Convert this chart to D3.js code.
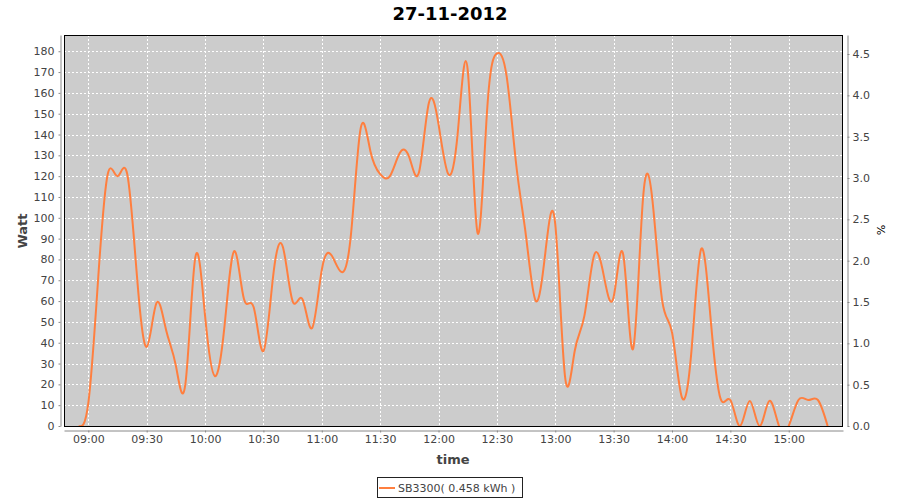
<!DOCTYPE html>
<html>
<head>
<meta charset="utf-8">
<script src="https://cdn.jsdelivr.net/npm/d3@7"></script>
<style>
  body { margin: 0; background: #fff; }
  text { font-family: "DejaVu Sans", sans-serif; }
</style>
</head>
<body>
<svg id="chart" width="900" height="500"></svg>
<script>
// data: 5 minute samples of the SB3300 inverter, 27-11-2012
var times = [
  '08:55','09:00','09:05','09:10','09:15','09:20','09:25','09:30','09:35','09:40',
  '09:45','09:50','09:55','10:00','10:05','10:10','10:15','10:20','10:25','10:30',
  '10:35','10:40','10:45','10:50','10:55','11:00','11:05','11:10','11:15','11:20',
  '11:25','11:30','11:35','11:40','11:45','11:50','11:55','12:00','12:05','12:10',
  '12:15','12:20','12:25','12:30','12:35','12:40','12:45','12:50','12:55','13:00',
  '13:05','13:10','13:15','13:20','13:25','13:30','13:35','13:40','13:45','13:50',
  '13:55','14:00','14:05','14:10','14:15','14:20','14:25','14:30','14:35','14:40',
  '14:45','14:50','14:55','15:00','15:05','15:10','15:15','15:20'
];
var watts = [
  0, 11, 70, 121, 120, 121, 72, 38, 59, 46,
  29, 21, 81, 53, 24, 48, 84, 61, 57, 36,
  72, 86, 60, 61, 47, 75, 82, 74, 92, 143,
  132, 121, 120, 131, 129, 122, 155, 145, 121, 142,
  171, 93, 152, 179, 168, 125, 91, 60, 84, 97,
  24, 36, 53, 82, 72, 62, 82, 37, 108, 108,
  60, 45, 14, 36, 85, 50, 13, 12.5, 0, 12,
  0, 12, 0, 0, 12.5, 12.5, 12.5, 0
];
var wattTicks = [0, 10, 20, 30, 40, 50, 60, 70, 80, 90, 100, 110, 120, 130, 140, 150, 160, 170, 180];
var pctTicks = [0, 0.5, 1.0, 1.5, 2.0, 2.5, 3.0, 3.5, 4.0, 4.5];
var title = '27-11-2012';
var seriesName = 'SB3300( 0.458 kWh )';

var plot = { left: 64, right: 843, top: 35, bottom: 426 };
var lineColor = '#ff7f3f';
var textColor = '#444444';
var axisColor = '#888888';

var parseTime = d3.timeParse('%Y-%m-%d %H:%M:%S');
var points = times.map(function(t, i) {
  return { t: parseTime('2012-11-27 ' + t + ':00'), w: watts[i] };
});

var svg = d3.select('#chart');

var x = d3.scaleTime()
  .domain([parseTime('2012-11-27 08:47:30'), parseTime('2012-11-27 15:27:54')])
  .range([plot.left, plot.right]);
var y = d3.scaleLinear().domain([0, 187.8]).range([plot.bottom, plot.top]);
var y2 = d3.scaleLinear().domain([0, 4.73]).range([plot.bottom, plot.top]);

var xTicks = x.ticks(d3.timeMinute.every(30));

// plot background
svg.append('rect')
  .attr('x', plot.left).attr('y', plot.top)
  .attr('width', plot.right - plot.left).attr('height', plot.bottom - plot.top)
  .attr('fill', '#cccccc');

// gridlines
var grid = svg.append('g').attr('stroke', '#fff').attr('stroke-width', 1).attr('stroke-dasharray', '2,2');
grid.selectAll('.vgrid').data(xTicks).enter().append('line')
  .attr('x1', function(d) { return Math.round(x(d)) + 0.5; })
  .attr('x2', function(d) { return Math.round(x(d)) + 0.5; })
  .attr('y1', plot.top).attr('y2', plot.bottom);
grid.selectAll('.hgrid').data(wattTicks).enter().append('line')
  .attr('x1', plot.left).attr('x2', plot.right)
  .attr('y1', function(d) { return Math.round(y(d)) + 0.5; })
  .attr('y2', function(d) { return Math.round(y(d)) + 0.5; });

// series line, clipped to the plot area
svg.append('clipPath').attr('id', 'clip').append('rect')
  .attr('x', plot.left).attr('y', plot.top)
  .attr('width', plot.right - plot.left).attr('height', plot.bottom - plot.top);

var line = d3.line()
  .x(function(d) { return x(d.t); })
  .y(function(d) { return y(d.w); })
  .curve(d3.curveNatural);

svg.append('path')
  .datum(points)
  .attr('clip-path', 'url(#clip)')
  .attr('fill', 'none')
  .attr('stroke', lineColor)
  .attr('stroke-width', 2)
  .attr('d', line);

// plot border
svg.append('rect')
  .attr('x', plot.left + 0.5).attr('y', plot.top + 0.5)
  .attr('width', plot.right - plot.left - 1).attr('height', plot.bottom - plot.top)
  .attr('fill', 'none').attr('stroke', '#000').attr('stroke-width', 1);

function styleAxis(g) {
  g.select('.domain').attr('stroke', axisColor);
  g.selectAll('.tick line').attr('stroke', axisColor);
  g.selectAll('.tick text').attr('fill', textColor).style('font-size', '11px');
}

// left axis
svg.append('g')
  .attr('transform', 'translate(' + (plot.left - 3.5) + ',0)')
  .call(d3.axisLeft(y).tickValues(wattTicks).tickSize(2).tickSizeOuter(0).tickPadding(4))
  .call(styleAxis);

// right axis
svg.append('g')
  .attr('transform', 'translate(' + (plot.right + 4.5) + ',0)')
  .call(d3.axisRight(y2).tickValues(pctTicks).tickFormat(d3.format('.1f')).tickSize(2).tickSizeOuter(0).tickPadding(3))
  .call(styleAxis);

// bottom axis
svg.append('g')
  .attr('transform', 'translate(0,' + (plot.bottom + 4.5) + ')')
  .call(d3.axisBottom(x).tickValues(xTicks).tickFormat(d3.timeFormat('%H:%M')).tickSize(2).tickSizeOuter(0).tickPadding(3))
  .call(styleAxis);

// titles and axis labels
svg.append('text')
  .attr('x', 450).attr('y', 20)
  .attr('text-anchor', 'middle')
  .style('font-size', '18px').style('font-weight', 'bold')
  .attr('fill', '#000')
  .text(title);

svg.append('text')
  .attr('transform', 'translate(27,231) rotate(-90)')
  .attr('text-anchor', 'middle')
  .style('font-size', '13px').style('font-weight', 'bold')
  .attr('fill', textColor)
  .text('Watt');

svg.append('text')
  .attr('x', 453).attr('y', 464)
  .attr('text-anchor', 'middle')
  .style('font-size', '13px').style('font-weight', 'bold')
  .attr('fill', textColor)
  .text('time');

svg.append('text')
  .attr('transform', 'translate(877,230) rotate(90)')
  .attr('text-anchor', 'middle')
  .style('font-size', '11px')
  .attr('fill', '#000')
  .text('%');

// legend
var legend = svg.append('g');
legend.append('rect')
  .attr('x', 377.5).attr('y', 477.5).attr('width', 145).attr('height', 20)
  .attr('fill', '#fff').attr('stroke', '#222');
legend.append('line')
  .attr('x1', 379).attr('x2', 395).attr('y1', 488).attr('y2', 488)
  .attr('stroke', lineColor).attr('stroke-width', 2);
legend.append('text')
  .attr('x', 398).attr('y', 492)
  .style('font-size', '11px')
  .attr('fill', textColor)
  .text(seriesName);
</script>
</body>
</html>
